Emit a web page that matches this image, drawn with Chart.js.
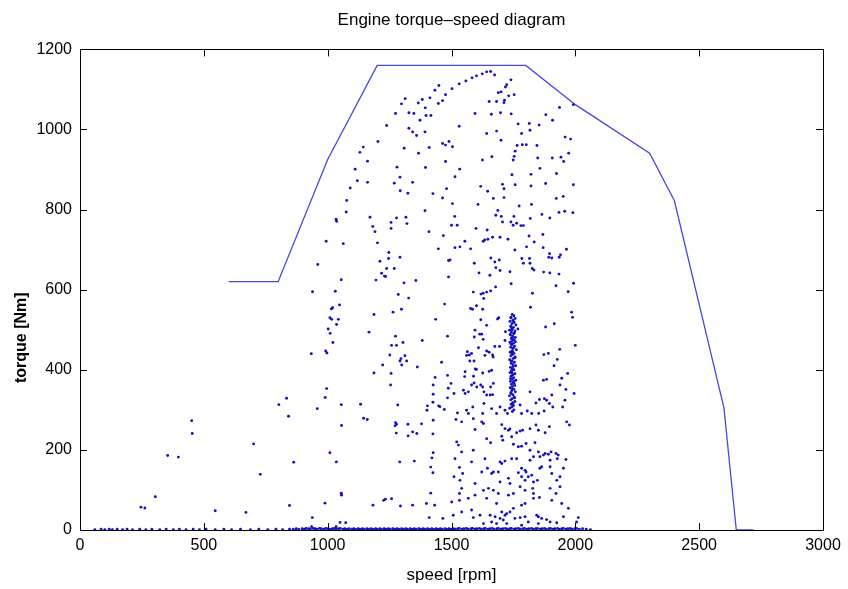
<!DOCTYPE html>
<html>
<head>
<meta charset="utf-8">
<script src="https://cdn.jsdelivr.net/npm/chart.js@4/dist/chart.umd.min.js"></script>
<style>
  html, body { margin: 0; padding: 0; background: #fff; }
  canvas { display: block; }
</style>
</head>
<body>
<canvas id="chart-1" width="848" height="589"></canvas>
<script>
// full load envelope [rpm, Nm]
var envSpeed = [600, 800, 1000, 1200, 1800, 2000, 2300, 2400, 2600, 2650, 2720];
var envTorque = [620, 620, 925, 1160, 1160, 1062, 941, 822, 305, 0, 0];

var xTicks = [0, 500, 1000, 1500, 2000, 2500, 3000];
var yTicks = [0, 200, 400, 600, 800, 1000, 1200];

// operating points [speed, torque]
var upperPts = [
  [1449,1110],[1433,1098],[1476,1087],[1313,1077],[1298,1064],[1366,1066],[1382,1075],[1413,1079],[1447,1065],[1464,1072],
  [1394,1054],[1274,1040],[1328,1042],[1348,1040],[1397,1035],[1417,1035],[1373,1023],[1238,1010],[1328,1003],[1343,994],
  [1359,985],[1393,994],[1203,970],[1144,956],[1130,943],[1309,953],[1367,941],[1410,955],[1464,965],[1476,961],
  [1490,970],[1161,921],[1111,901],[1280,906],[1395,905],[1476,920],[1292,881],[1120,872],[1161,868],[1269,866],
  [1343,868],[1091,854],[1293,847],[1324,841],[1425,840],[1480,852],[1464,829],[1077,823],[1075,794],[1393,797],
  [1171,781],[1278,779],[1316,781],[1034,776],
  [1502,1102],[1531,1114],[1558,1121],[1583,1129],[1601,1134],[1624,1139],[1642,1144],[1658,1145],[1674,1136],[1740,1124],
  [1723,1112],[1718,1106],[1689,1092],[1700,1094],[1731,1084],[1753,1087],[1652,1070],[1682,1070],[1712,1067],[1714,1073],
  [1595,1040],[1661,1038],[1698,1042],[1741,1039],[1881,1037],[1936,1055],[1992,1062],[1908,1023],[1769,1014],[1814,1015],
  [1854,1011],[1531,1008],[1642,990],[1682,996],[1783,990],[1817,998],[1700,973],[1959,981],[1981,976],[1504,957],
  [1765,960],[1786,962],[1802,962],[1845,960],[1757,946],[1973,941],[1753,933],[1749,924],[1625,924],[1663,932],
  [1848,929],[1907,929],[1942,931],[1953,920],[1857,903],[1533,901],[1514,882],[1744,887],[1821,888],[1924,890],
  [1618,858],[1646,846],[1706,863],[1712,852],[1757,862],[1821,859],[1880,865],[1992,862],[1669,828],[1712,830],
  [1504,815],[1607,813],[1773,809],[1823,813],[1923,828],[1951,833],[1687,798],[1513,783],[1679,786],[1701,783],
  [1752,783],[1818,778],[1865,788],[1897,779],[1934,793],[1957,796],[1990,792]
];

var midPts = [
  [1036,771],[1182,758],[1191,745],[1256,768],[1256,753],[1320,765],[1409,745],[1467,735],[994,721],[1063,715],
  [1201,717],[1447,702],[960,663],[1247,693],[1246,678],[1292,681],[1211,671],[1488,673],[1238,653],[1269,653],
  [1218,641],[1229,634],[1234,633],[1195,624],[1308,617],[1356,623],[1488,632],[1055,625],[939,595],[1031,596],
  [1285,588],[1327,579],[1020,555],[1015,552],[1048,562],[1264,544],[1298,551],[1472,564],[1187,538],[1009,530],
  [1016,526],[1043,526],[1036,513],[1436,526],[1002,502],[1010,491],[1021,468],[1167,494],[1274,484],[1258,461],
  [1278,461],[1304,468],[1382,473],[1484,484],[934,440],[992,447],[997,442],[1251,437],[1296,428],[1292,422],
  [1312,435],[1319,422],[1299,412],[1222,412],[1362,407],[1460,419],[1187,392],[1256,391],[1434,381],[1484,386],
  [1500,761],[1523,761],[1599,753],[1644,749],[1706,769],[1740,769],[1749,761],[1763,766],[1780,760],[1790,760],
  [1813,734],[1869,738],[1554,721],[1514,705],[1534,707],[1577,702],[1628,721],[1634,724],[1647,726],[1666,731],
  [1696,731],[1728,726],[1756,699],[1803,707],[1834,719],[1870,705],[1896,690],[1893,681],[1905,679],[1935,681],
  [1940,687],[1964,701],[1494,674],[1592,666],[1659,679],[1675,669],[1693,674],[1679,655],[1696,648],[1784,678],
  [1790,666],[1815,678],[1817,666],[1826,653],[1833,649],[1611,642],[1655,636],[1736,645],[1872,644],[1897,642],
  [1934,639],[1741,615],[1922,610],[1993,616],[1971,595],[1588,594],[1619,589],[1628,591],[1642,594],[1658,597],
  [1678,607],[1630,578],[1827,591],[1577,553],[1585,551],[1601,560],[1626,551],[1819,556],[1985,544],[1989,531],
  [1618,525],[1686,527],[1691,530],[1642,511],[1880,507],[1915,515],[1595,499],[1614,489],[1622,489],[1592,482],
  [1628,476],[1718,495],[1768,502],[1716,473],[1694,458],[1675,458],[1609,455],[1642,447],[1564,445],[1572,437],
  [1581,441],[1561,436],[1635,436],[1652,444],[1666,437],[1668,432],[1574,422],[1591,422],[1596,402],[1601,401],
  [1626,392],[1652,396],[1662,399],[1555,395],[1553,383],[1589,384],[1873,438],[1891,441],[1937,451],[2000,461],
  [1927,426],[1914,410],[1969,391],[1945,379],[1884,376]
];

var lowPts = [
  [996,353],[990,331],[958,303],[1055,313],[1133,314],[1254,362],[1283,312],[1145,279],[1160,276],[1274,268],
  [1278,264],[1272,260],[1324,264],[1277,242],[1343,245],[1325,235],[1360,241],[1379,265],[1426,362],[1426,339],
  [1487,354],[1484,330],[1403,310],[1401,299],[1425,319],[1448,310],[1453,308],[1471,301],[1426,274],[1425,240],
  [1009,193],[1035,170],[1291,170],[1350,172],[1426,193],[1421,180],[1416,157],[1425,143],[1055,92],[1056,87],
  [989,67],[1183,62],[1226,74],[1233,77],[1258,78],[1294,60],[1343,62],[1399,66],[1432,62],[1416,92],
  [938,31],[1050,19],[1073,18],[1410,31],[1465,29],[1034,8],[935,8],[1056,261],
  [451,273],[453,241],[354,186],[397,182],[304,83],[246,57],[262,55],[546,48],[670,44],[701,215],
  [728,139],[803,313],[834,329],[842,284],[863,169],[846,61],
  [1498,366],[1510,341],[1548,349],[1555,341],[1568,345],[1581,362],[1591,367],[1602,357],[1618,362],[1626,357],
  [1631,345],[1642,337],[1656,337],[1666,338],[1658,357],[1669,366],[1817,345],[1841,317],[1855,326],[1875,328],
  [1884,324],[1895,316],[1909,307],[1938,362],[1962,351],[1995,341],[1958,324],[1949,307],[1871,374],[1905,337],
  [1524,292],[1561,299],[1568,291],[1586,307],[1631,316],[1626,291],[1662,303],[1682,291],[1696,307],[1716,299],
  [1726,291],[1783,291],[1806,297],[1824,291],[1852,291],[1874,297],[1777,312],[1541,270],[1518,276],[1588,278],
  [1622,270],[1629,266],[1703,263],[1716,253],[1730,249],[1736,252],[1763,243],[1777,247],[1787,249],[1817,253],
  [1841,262],[1851,249],[1878,243],[1895,258],[1965,270],[1976,262],[1595,251],[1642,228],[1658,218],[1703,234],
  [1707,224],[1743,233],[1750,214],[1770,208],[1783,209],[1801,216],[1817,199],[1837,218],[1851,195],[1878,191],
  [1891,189],[1902,195],[1922,191],[1927,178],[1898,174],[1871,187],[1857,183],[1831,183],[1817,174],[1521,220],
  [1528,212],[1541,195],[1588,199],[1514,178],[1581,170],[1635,178],[1645,154],[1696,170],[1703,166],[1716,172],
  [1743,178],[1763,178],[1783,154],[1797,149],[1801,145],[1770,143],[1857,154],[1864,158],[1824,137],[1898,158],
  [1952,154],[1962,176],[1931,187],[1532,156],[1545,141],[1622,145],[1662,141],[1669,145],[1689,145],[1730,129],
  [1696,120],[1736,116],[1783,133],[1797,124],[1810,133],[1831,120],[1847,124],[1905,141],[1925,124],[1938,133],
  [1938,108],[1534,124],[1541,104],[1510,133],[1532,91],[1595,116],[1629,99],[1649,104],[1669,99],[1689,91],
  [1730,87],[1750,91],[1777,108],[1797,99],[1828,104],[1831,91],[1855,81],[1898,104],[1922,91],[1501,70],
  [1532,74],[1568,79],[1595,87],[1642,79],[1682,66],[1703,45],[1716,37],[1723,41],[1736,45],[1750,54],
  [1783,62],[1797,66],[1831,79],[1905,74],[1945,66],[1972,54],[1507,37],[1541,45],[1581,50],[1588,31],
  [1615,37],[1656,37],[1662,20],[1676,33],[1696,29],[1709,25],[1756,29],[1777,31],[1797,33],[1810,20],
  [1844,37],[1851,33],[1864,29],[1884,26],[1898,20],[1925,18],[1952,33],[2012,31],[2005,20],[1629,16],
  [1682,16],[1723,16],[1783,12],[1851,16]
];

// the dense column near 1750 rpm
var clusterPts = [
  [1745,538],[1752,535],[1740,531],[1757,528],[1748,524],[1736,521],[1753,518],[1744,515],[1760,512],[1739,509],
  [1750,506],[1746,502],[1734,499],[1756,497],[1742,494],[1751,490],[1738,487],[1747,484],[1758,481],[1741,478],
  [1753,475],[1745,472],[1736,469],[1750,466],[1743,462],[1755,459],[1739,456],[1748,453],[1762,450],[1744,447],
  [1737,444],[1752,441],[1746,438],[1740,435],[1757,432],[1749,428],[1735,425],[1744,422],[1754,419],[1741,416],
  [1748,413],[1759,410],[1738,406],[1746,403],[1752,400],[1743,397],[1736,393],[1756,390],[1747,387],[1740,384],
  [1751,380],[1744,377],[1760,374],[1738,371],[1749,368],[1742,364],[1755,361],[1746,358],[1737,355],[1752,351],
  [1743,348],[1758,345],[1740,341],[1748,338],[1734,335],[1753,332],[1745,328],[1739,325],[1756,321],[1747,318],
  [1741,314],[1750,311],[1744,307],[1735,304],[1752,300],[1746,296],[1740,530],[1750,520],[1742,505],[1754,492],
  [1747,478],[1739,465],[1751,455],[1744,442],[1756,430],[1741,420],[1749,408],[1745,392],[1738,378],[1753,366],
  [1746,352],[1740,343],[1755,330],[1748,316],[1743,500],[1737,488],[1758,470],[1747,446],[1742,398],[1751,372]
];

// points lying on the zero torque line (motoring / idle)
var idlePts = [
  [60,1],[85,2],[100,1],[118,2],[131,1],[150,2],[172,1],[190,2],[212,1],[241,2],
  [266,1],[290,2],[322,1],[348,2],[377,1],[401,2],[428,1],[457,2],[482,1],[509,2],
  [546,1],[581,2],[612,1],[648,2],[688,1],[722,2],[758,1],[791,2],[818,1],[846,2],
  [861,2],[873,3],[883,2],[897,3],[906,2],[913,4],[923,3],[930,2],[941,4],[949,3],
  [956,2],[967,4],[974,3],[984,2],[992,4],[1001,3],[1008,2],[1019,3],[1027,4],[1034,2],
  [1044,3],[1051,4],[1062,2],[1069,3],[1079,2],[1086,3],[1097,2],[1105,3],[1112,2],[1123,3],
  [1130,2],[1140,3],[1147,2],[1158,3],[1165,2],[1175,3],[1182,2],[1193,3],[1200,2],[1210,3],
  [1217,2],[1228,3],[1235,2],[1245,3],[1252,2],[1263,3],[1270,2],[1280,3],[1287,2],[1298,3],
  [1305,2],[1315,3],[1322,2],[1333,3],[1340,2],[1350,3],[1357,2],[1368,3],[1375,2],[1385,3],
  [1392,2],[1403,3],[1410,2],[1420,3],[1427,2],[1438,3],[1445,2],[1455,3],[1462,2],[1473,3],
  [1480,2],[1490,3],[1497,2],[1508,3],[1515,2],[1525,3],[1532,4],[1543,2],[1550,3],[1560,4],
  [1567,2],[1578,3],[1585,4],[1595,2],[1602,3],[1613,4],[1620,2],[1630,3],[1637,4],[1648,2],
  [1655,3],[1665,4],[1672,2],[1683,3],[1690,4],[1700,2],[1707,3],[1718,4],[1725,2],[1735,3],
  [1742,4],[1753,2],[1760,3],[1770,4],[1777,2],[1788,3],[1795,4],[1805,2],[1812,3],[1823,4],
  [1830,2],[1840,3],[1847,4],[1858,2],[1865,3],[1875,4],[1882,2],[1893,3],[1900,4],[1910,2],
  [1917,3],[1928,4],[1935,2],[1945,3],[1952,4],[1963,2],[1970,3],[1980,4],[1987,2],[1998,3],
  [2005,4],[2016,2],[2029,3],[2044,2],[2061,1]
];

var FONT = "'Liberation Sans', Arial, sans-serif";
var dotColor = "rgb(20, 20, 190)";

function toXY(list) {
  return list.map(function (p) { return { x: p[0], y: p[1] }; });
}

var envPts = [];
for (let i = 0; i < envSpeed.length; i++) {
  envPts.push({ x: envSpeed[i], y: envTorque[i] });
}

var opPts = toXY(upperPts).concat(toXY(midPts), toXY(lowPts), toXY(clusterPts), toXY(idlePts));

// MATLAB style box with inward ticks on all four sides, plus the y label
const boxPlugin = {
  id: "box",
  afterDraw(chart) {
    const ctx = chart.ctx;
    const a = chart.chartArea;
    const sx = chart.scales.x;
    const sy = chart.scales.y;
    const len = 7;
    ctx.save();
    ctx.strokeStyle = "#000";
    ctx.lineWidth = 1;
    ctx.beginPath();
    ctx.rect(Math.round(a.left) + 0.5, Math.round(a.top) + 0.5,
      Math.round(a.right - a.left), Math.round(a.bottom - a.top));
    xTicks.forEach(function (v) {
      const px = Math.round(sx.getPixelForValue(v)) + 0.5;
      ctx.moveTo(px, a.bottom); ctx.lineTo(px, a.bottom - len);
      ctx.moveTo(px, a.top); ctx.lineTo(px, a.top + len);
    });
    yTicks.forEach(function (v) {
      const py = Math.round(sy.getPixelForValue(v)) + 0.5;
      ctx.moveTo(a.left, py); ctx.lineTo(a.left + len, py);
      ctx.moveTo(a.right, py); ctx.lineTo(a.right - len, py);
    });
    ctx.stroke();

    // y axis label, sits a bit below the middle like in the original
    ctx.translate(22, sy.getPixelForValue(480));
    ctx.rotate(-Math.PI / 2);
    ctx.fillStyle = "#000";
    ctx.font = "bold 16px " + FONT;
    ctx.textAlign = "center";
    ctx.textBaseline = "middle";
    ctx.fillText("torque [Nm]", 0, 0);
    ctx.restore();
  }
};

const chart1 = document.getElementById("chart-1").getContext("2d");
const myChart1 = new Chart(chart1, {
  type: "scatter",
  data: {
    datasets: [
      {
        label: "envelope",
        data: envPts,
        showLine: true,
        borderColor: "rgb(70, 70, 225)",
        borderWidth: 1.3,
        pointRadius: 0,
        fill: false,
        order: 2
      },
      {
        label: "operating points",
        data: opPts,
        backgroundColor: dotColor,
        borderWidth: 0,
        pointRadius: 1.45,
        order: 1
      }
    ]
  },
  plugins: [boxPlugin],
  options: {
    responsive: false,
    animation: false,
    devicePixelRatio: 1,
    layout: { padding: { left: 0, right: 25, top: 0, bottom: 0 } },
    plugins: {
      legend: { display: false },
      tooltip: { enabled: false },
      title: {
        display: true,
        fullSize: false,
        text: "Engine torque\u2013speed diagram",
        color: "#000",
        font: { family: FONT, size: 17, weight: "normal" },
        padding: { top: 10, bottom: 19 }
      }
    },
    scales: {
      x: {
        type: "linear",
        min: 0,
        max: 3000,
        afterFit: function (s) { s.height = 59; },
        afterBuildTicks: function (s) { s.ticks = xTicks.map(function (v) { return { value: v }; }); },
        ticks: {
          color: "#000",
          font: { family: FONT, size: 16 },
          padding: 6,
          maxRotation: 0,
          callback: function (v) { return String(v); }
        },
        grid: { display: false, drawTicks: false },
        border: { display: false },
        title: {
          display: true,
          text: "speed [rpm]",
          color: "#000",
          font: { family: FONT, size: 17 },
          padding: { top: 0, bottom: 3 }
        }
      },
      y: {
        type: "linear",
        min: 0,
        max: 1200,
        afterFit: function (s) { s.width = 80; },
        afterBuildTicks: function (s) { s.ticks = yTicks.map(function (v) { return { value: v }; }); },
        ticks: {
          color: "#000",
          font: { family: FONT, size: 16 },
          padding: 8,
          callback: function (v) { return String(v); }
        },
        grid: { display: false, drawTicks: false },
        border: { display: false },
        title: { display: false }
      }
    }
  }
});
</script>
</body>
</html>
